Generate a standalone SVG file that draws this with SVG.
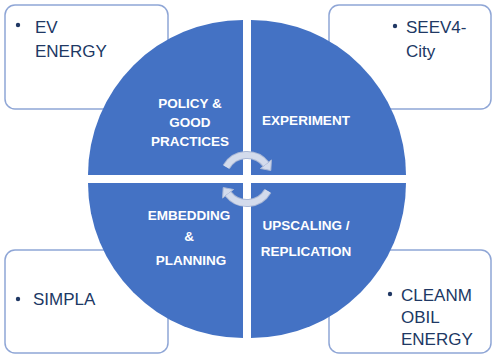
<svg xmlns="http://www.w3.org/2000/svg" width="493" height="355" viewBox="0 0 493 355">
  <style>
    .box { fill: #ffffff; stroke: #8fa6d6; stroke-width: 1.5; }
    .quad { fill: #4472c4; }
    .btxt { font-family: "Liberation Sans", Arial, sans-serif; font-size: 17px; fill: #203864; }
    .qtxt { font-family: "Liberation Sans", Arial, sans-serif; font-size: 13.5px; font-weight: bold; fill: #ffffff; text-anchor: middle; }
    .cyc-edge { fill: none; stroke: #a9b7d5; stroke-width: 8; }
    .cyc { fill: none; stroke: #d3dbec; stroke-width: 6; }
    .cychead { fill: #d3dbec; stroke: #a9b7d5; stroke-width: 1; stroke-linejoin: round; }
  </style>

  <defs>
    <!-- one curved block arrow of the cycle -->
    <g id="cycle-arrow">
      <path class="cyc-edge" d="M226.2 167 A24 24 0 0 1 265.9 164.2"/>
      <polygon class="cychead" points="271.4,159.9 260.4,168.5 270.8,170.5"/>
      <path class="cyc" d="M226.2 167 A24 24 0 0 1 265.9 164.2"/>
    </g>
  </defs>

  <!-- project boxes (drawn beneath the circle) -->
  <g id="box-ev-energy">
    <rect class="box" x="5" y="5" width="163" height="104" rx="10"/>
    <circle cx="18" cy="25" r="2.2" fill="#203864"/>
    <text class="btxt" x="35" y="33">EV</text>
    <text class="btxt" x="35" y="57">ENERGY</text>
  </g>
  <g id="box-seev4-city">
    <rect class="box" x="329" y="5" width="162" height="104" rx="10"/>
    <circle cx="395" cy="26" r="2.2" fill="#203864"/>
    <text class="btxt" x="406" y="33">SEEV4-</text>
    <text class="btxt" x="406" y="57">City</text>
  </g>
  <g id="box-simpla">
    <rect class="box" x="5" y="250" width="163" height="103" rx="10"/>
    <circle cx="18" cy="299" r="2.2" fill="#203864"/>
    <text class="btxt" x="33" y="305">SIMPLA</text>
  </g>
  <g id="box-cleanmobil">
    <rect class="box" x="329" y="250" width="162" height="103" rx="10"/>
    <circle cx="390" cy="294" r="2.2" fill="#203864"/>
    <text class="btxt" x="401" y="301">CLEANM</text>
    <text class="btxt" x="401" y="323">OBIL</text>
    <text class="btxt" x="401" y="345">ENERGY</text>
  </g>

  <!-- circle quadrants -->
  <g id="quad-policy">
    <path class="quad" d="M243 175 L243 20 A155 155 0 0 0 88 175 Z"/>
    <text class="qtxt" x="190" y="108">POLICY &amp;</text>
    <text class="qtxt" x="190" y="127">GOOD</text>
    <text class="qtxt" x="190" y="146">PRACTICES</text>
  </g>
  <g id="quad-experiment">
    <path class="quad" d="M251 175 L251 20 A155 155 0 0 1 406 175 Z"/>
    <text class="qtxt" x="306" y="125">EXPERIMENT</text>
  </g>
  <g id="quad-embedding">
    <path class="quad" d="M243 183 L88 183 A155 155 0 0 0 243 338 Z"/>
    <text class="qtxt" x="189" y="220">EMBEDDING</text>
    <text class="qtxt" x="189" y="241">&amp;</text>
    <text class="qtxt" x="191" y="265">PLANNING</text>
  </g>
  <g id="quad-upscaling">
    <path class="quad" d="M251 183 L406 183 A155 155 0 0 1 251 338 Z"/>
    <text class="qtxt" x="306" y="230">UPSCALING /</text>
    <text class="qtxt" x="306" y="256">REPLICATION</text>
  </g>

  <!-- cycle arrows at the centre -->
  <g id="connectors">
    <use href="#cycle-arrow"/>
    <use href="#cycle-arrow" transform="rotate(180 247 179)"/>
  </g>
</svg>
